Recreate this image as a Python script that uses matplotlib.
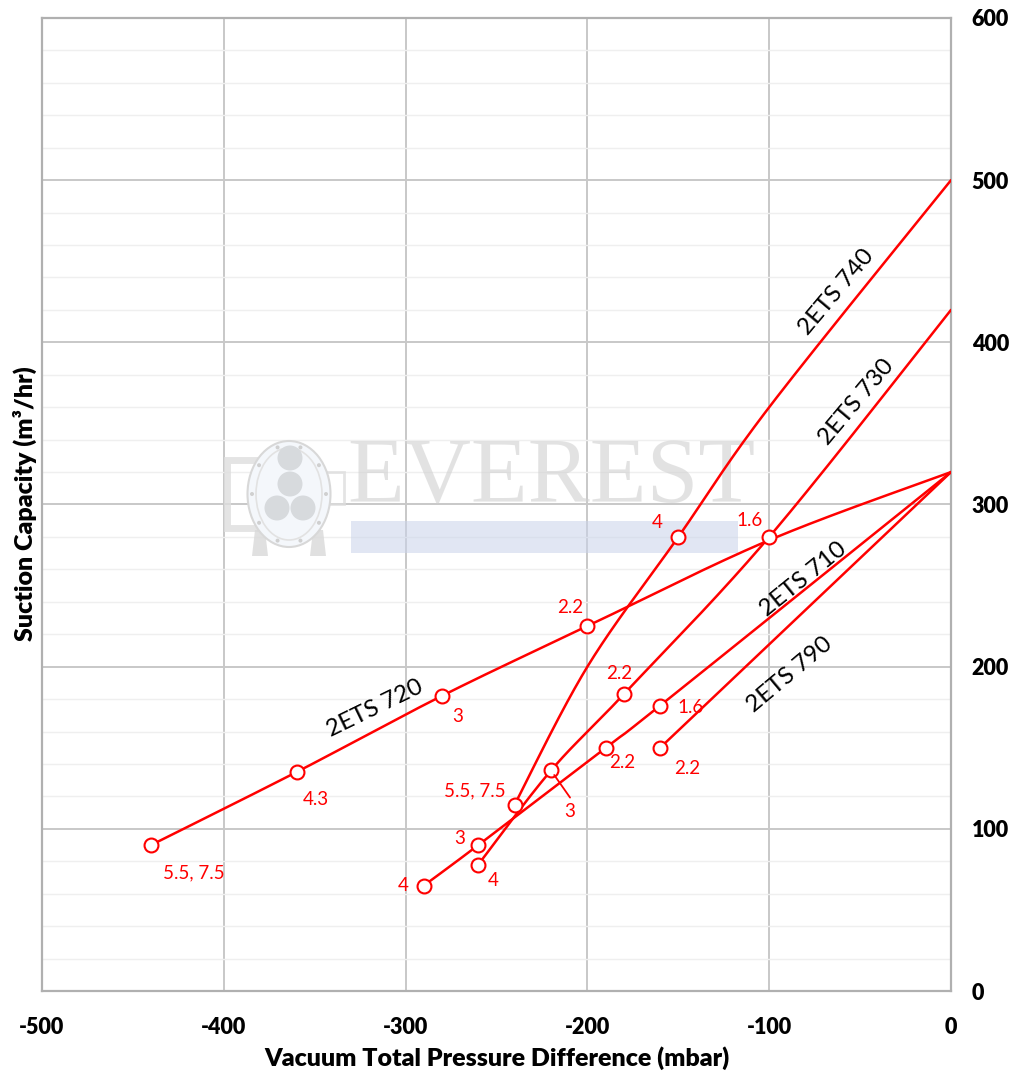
import numpy as np
import matplotlib
matplotlib.use("Agg")
import matplotlib.pyplot as plt
from matplotlib.patches import Ellipse, Rectangle, Polygon

plt.rcParams['font.family'] = ['Lato', 'DejaVu Sans']

# ---------------- data ----------------
x720 = [-440, -360, -280, -200, -100, 0]
y720 = [90, 135, 182, 225, 278, 320]
lab720 = ["5.5, 7.5", "4.3", "3", "2.2", None, None]

x740 = [-240, -200, -150, -100, 0]
y740 = [115, 200, 280, 360, 500]
lab740 = ["5.5, 7.5", None, "4", None, None]

x730 = [-260, -220, -180, -100, 0]
y730 = [78, 136, 183, 280, 420]
lab730 = ["4", "3", "2.2", "1.6", None]

x710 = [-290, -260, -190, -160, 0]
y710 = [65, 90, 150, 176, 320]
lab710 = ["4", "3", "2.2", "1.6", None]

x790 = [-160, 0]
y790 = [150, 320]
lab790 = ["2.2", None]

names = ["2ETS 720", "2ETS 740", "2ETS 730", "2ETS 710", "2ETS 790"]
xticks = [-500, -400, -300, -200, -100, 0]
yticks = [0, 100, 200, 300, 400, 500, 600]

# ---------------- styling / placement ----------------
# label offsets in pixels (dx, dy) relative to the marker
off720 = [(43, -28), (19, -27), (16, -21), (-17, 19), None, None]
off740 = [(-40, 14), None, (-21, 14), None, None]
off730 = [(15, -16), (19, -41), (-5, 21), (-20, 16), None]
off710 = [(-21, 0), (-19, 7), (17, -15), (30, -2), None]
off790 = [(27, -21), None]
# curve name positions (data coords) and rotations
name_pos = [(-317, 174), (-63, 431), (-52, 363), (-81, 254), (-89, 195)]
name_rot = [26, 50, 50, 39, 40]

RED = '#ff0000'
W, H = 1014, 1079
fig = plt.figure(figsize=(W / 100, H / 100), dpi=100)
L, R, B, T = 42, 951, 991, 18
ax = fig.add_axes([L / W, 1 - B / H, (R - L) / W, (B - T) / H])
ax.set_xlim(-500, 0)
ax.set_ylim(0, 600)
ax.set_xticks(xticks)
ax.set_xticklabels([str(v) for v in xticks])
ax.set_yticks(yticks)
ax.set_yticklabels([str(v) for v in yticks])
ax.set_yticks(np.arange(0, 601, 20), minor=True)
ax.yaxis.tick_right()
ax.tick_params(which='both', length=0)
ax.tick_params(axis='x', pad=18.5, labelsize=15.5)
ax.tick_params(axis='y', pad=15, labelsize=15.5)
for tk in ax.xaxis.get_major_ticks() + ax.yaxis.get_major_ticks():
    tk.label1.set_fontweight('heavy')
    tk.label2.set_fontweight('heavy')
ax.grid(which='minor', axis='y', color='#efefef', lw=1.0, zorder=0)
ax.grid(which='major', color='#c8c8c8', lw=1.4, zorder=0)
ax.set_axisbelow(True)
for s in ax.spines.values():
    s.set_color('#b0b0b0')
    s.set_linewidth(1.6)

fig.text(25 / W, 1 - 504 / H, 'Suction Capacity (m³/hr)', rotation=90,
         ha='center', va='center', fontsize=18, fontweight='heavy')
fig.text(496.5 / W, 1 - 1058 / H, 'Vacuum Total Pressure Difference (mbar)',
         ha='center', va='center', fontsize=18, fontweight='heavy')

# ---------------- watermark ----------------
def fx(px):
    return (px - L) / (R - L)

def fy(py):
    return (B - py) / (B - T)

ta = ax.transAxes
ax.add_patch(Rectangle((fx(351), fy(553)), fx(738) - fx(351), fy(521) - fy(553),
                       transform=ta, facecolor='#c9d3ea', alpha=0.55,
                       edgecolor='none', zorder=1))
ax.text(fx(551), fy(480), 'EVEREST', transform=ta, ha='center', va='center',
        fontsize=67, family='Liberation Serif', color='#d0d0d0', alpha=0.6,
        zorder=1)
# logo
ax.add_patch(Rectangle((fx(227), fy(528)), fx(262) - fx(227), fy(460) - fy(528),
                       transform=ta, facecolor='none', edgecolor='#dedede',
                       lw=5, alpha=0.8, zorder=1))
ax.add_patch(Rectangle((fx(318), fy(504)), fx(344) - fx(318), fy(472) - fy(504),
                       transform=ta, facecolor='none', edgecolor='#dedede',
                       lw=2, alpha=0.8, zorder=1))
for px0, px1 in [(252, 268), (310, 326)]:
    ax.add_patch(Polygon([(fx(px0 + 3), fy(530)), (fx(px1 - 3), fy(530)),
                          (fx(px1), fy(556)), (fx(px0), fy(556))],
                         transform=ta, facecolor='#d9d9d9', edgecolor='none',
                         alpha=0.8, zorder=1))
ax.add_patch(Ellipse((fx(289), fy(494)), 83 / (R - L), 106 / (B - T),
                     transform=ta, facecolor='#f4f7fb', edgecolor='#d8d8d8',
                     lw=1.5, zorder=1.1))
ax.add_patch(Ellipse((fx(289), fy(494)), 66 / (R - L), 92 / (B - T),
                     transform=ta, facecolor='none', edgecolor='#e2e2e2',
                     lw=1.2, zorder=1.1))
for cx, cy in [(290, 458), (290, 484), (277, 508), (303, 508)]:
    ax.add_patch(Ellipse((fx(cx), fy(cy)), 25 / (R - L), 25 / (B - T),
                         transform=ta, facecolor='#d7dadd', edgecolor='none',
                         zorder=1.2))
for ang in np.linspace(0, 2 * np.pi, 10, endpoint=False):
    cx = 289 + 37 * np.cos(ang)
    cy = 494 + 49 * np.sin(ang)
    ax.add_patch(Ellipse((fx(cx), fy(cy)), 4 / (R - L), 4 / (B - T),
                         transform=ta, facecolor='#d0d0d0', edgecolor='none',
                         zorder=1.2))

# ---------------- smoothed curves ----------------
def smooth(xs, ys, n=60):
    pts = ax.transData.transform(np.column_stack([xs, ys]))
    P = np.vstack([pts[0], pts, pts[-1]])
    out = []
    t = np.linspace(0, 1, n)[:, None]
    for i in range(1, len(P) - 2):
        p0, p1, p2, p3 = P[i - 1], P[i], P[i + 1], P[i + 2]
        c1 = p1 + (p2 - p0) / 6
        c2 = p2 - (p3 - p1) / 6
        seg = ((1 - t) ** 3 * p1 + 3 * (1 - t) ** 2 * t * c1
               + 3 * (1 - t) * t ** 2 * c2 + t ** 3 * p2)
        out.append(seg if i == 1 else seg[1:])
    return ax.transData.inverted().transform(np.vstack(out))

series = [(x720, y720, lab720, off720), (x740, y740, lab740, off740),
          (x730, y730, lab730, off730), (x710, y710, lab710, off710),
          (x790, y790, lab790, off790)]

for xs, ys, labs, offs in series:
    c = smooth(xs, ys)
    ax.plot(c[:, 0], c[:, 1], color=RED, lw=1.8, zorder=3, solid_capstyle='round')
    mx = [x for x, l in zip(xs, labs) if l is not None]
    my = [y for y, l in zip(ys, labs) if l is not None]
    ax.plot(mx, my, 'o', ms=10, mfc='white', mec=RED, mew=1.5, zorder=4,
            clip_on=False)
    for x, y, l, o in zip(xs, ys, labs, offs):
        if l is None:
            continue
        ax.annotate(l, (x, y), xytext=(o[0] * 0.72, o[1] * 0.72),
                    textcoords='offset points', ha='center', va='center',
                    color=RED, fontsize=13.5, zorder=5)

# leader line for the "3" label of 2ETS 730
ax.annotate('', (x730[1], y730[1]), xytext=(19 * 0.72, -41 * 0.72 + 10),
            textcoords='offset points',
            arrowprops=dict(arrowstyle='-', color=RED, lw=1.3,
                            shrinkA=0, shrinkB=4), zorder=5)

for nm, (px, py), rot in zip(names, name_pos, name_rot):
    ax.text(px, py, nm, rotation=rot, rotation_mode='anchor', ha='center',
            va='center', fontsize=17.5, color='black', zorder=5)

fig.savefig('out.png', dpi=100)
